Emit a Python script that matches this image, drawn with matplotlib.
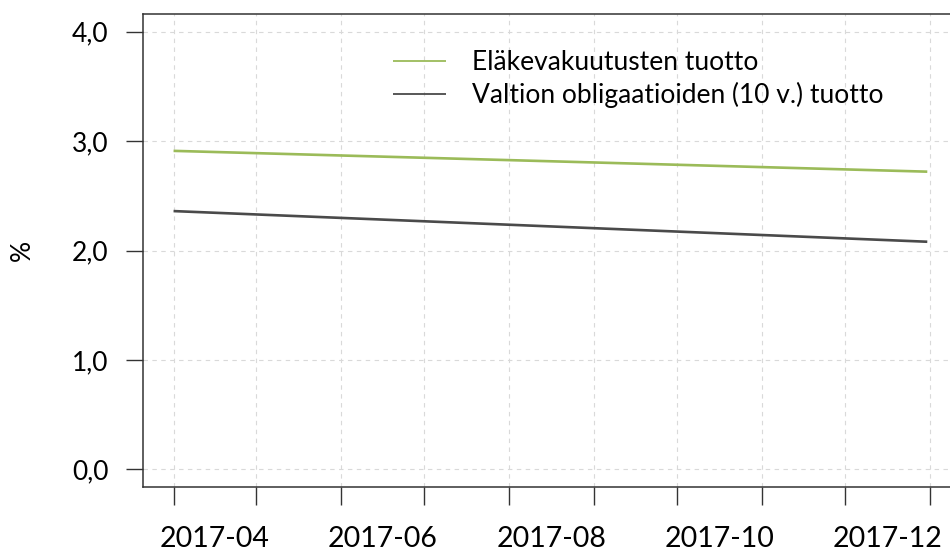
import datetime as dt

import matplotlib
matplotlib.use("Agg")
import matplotlib.pyplot as plt
import matplotlib.dates as mdates
from matplotlib.ticker import FixedLocator, NullFormatter, FuncFormatter

plt.rcParams['font.family'] = ['Lato', 'DejaVu Sans']

# data
dates = [dt.date(2017, 4, 1), dt.date(2017, 12, 31)]
elake = [2.91, 2.72]          # Eläkevakuutusten tuotto
valtio = [2.36, 2.08]         # Valtion obligaatioiden (10 v.) tuotto
labels = ["Eläkevakuutusten tuotto", "Valtion obligaatioiden (10 v.) tuotto"]
month_ticks = [dt.date(2017, m, 1) for m in range(4, 13)] + [dt.date(2018, 1, 1)]
label_months = ["2017-04", "2017-06", "2017-08", "2017-10", "2017-12"]
yticks = [0, 1, 2, 3, 4]

green = "#9BBB59"
dark = "#4A4A4A"
fs = 19

fig = plt.figure(figsize=(9.5, 5.54), dpi=100)
ax = fig.add_axes([143.3 / 950, 67 / 554, 817 / 950, 473 / 554])

ax.plot(dates, elake, color=green, lw=1.9, label=labels[0], solid_capstyle='butt')
ax.plot(dates, valtio, color=dark, lw=1.9, label=labels[1], solid_capstyle='butt')

# R-style 4 % padding around the data range
x0 = mdates.date2num(month_ticks[0])
x1 = mdates.date2num(month_ticks[-1])
pad = 0.04 * (x1 - x0)
ax.set_xlim(x0 - pad, x1 + pad)
ax.set_ylim(-0.16, 4.16)

# month start ticks without labels, labels in the middle of the months
ax.xaxis.set_major_locator(FixedLocator(mdates.date2num(month_ticks)))
ax.xaxis.set_major_formatter(NullFormatter())
mids = []
for s in label_months:
    y, m = int(s[:4]), int(s[5:])
    a = dt.date(y, m, 1)
    b = dt.date(y + (m == 12), m % 12 + 1, 1)
    mids.append(mdates.date2num(a) + (mdates.date2num(b) - mdates.date2num(a)) / 2)
ax.xaxis.set_minor_locator(FixedLocator(mids))
ax.xaxis.set_minor_formatter(FuncFormatter(lambda v, p: label_months[p]))
ax.tick_params(axis='x', which='minor', length=0, pad=28, labelsize=20.5)
ax.tick_params(axis='x', which='major', length=13, width=1, color="#333333")

ax.set_yticks(yticks)
ax.set_yticklabels([f"{v:.1f}".replace(".", ",") for v in yticks])
ax.tick_params(axis='y', length=12, width=1, color="#333333", pad=13, labelsize=fs)

ax.grid(True, which='major', color="#D9D9D9", lw=0.8, ls=(0, (4, 4)))
ax.set_axisbelow(True)
for sp in ax.spines.values():
    sp.set_color("#333333")
    sp.set_linewidth(1.1)

fig.text(22 / 950, 1 - 250 / 554, "%", rotation=90, ha='center', va='center', fontsize=fs)

leg = ax.legend(loc='upper left', bbox_to_anchor=(393 / 950, 1 - 50 / 554),
                bbox_transform=fig.transFigure, frameon=False, fontsize=fs,
                handlelength=2.0, handletextpad=1.0, labelspacing=0.27,
                borderpad=0, borderaxespad=0)
for h in leg.get_lines():
    h.set_linewidth(1.3)

fig.savefig("out.png", dpi=100)
